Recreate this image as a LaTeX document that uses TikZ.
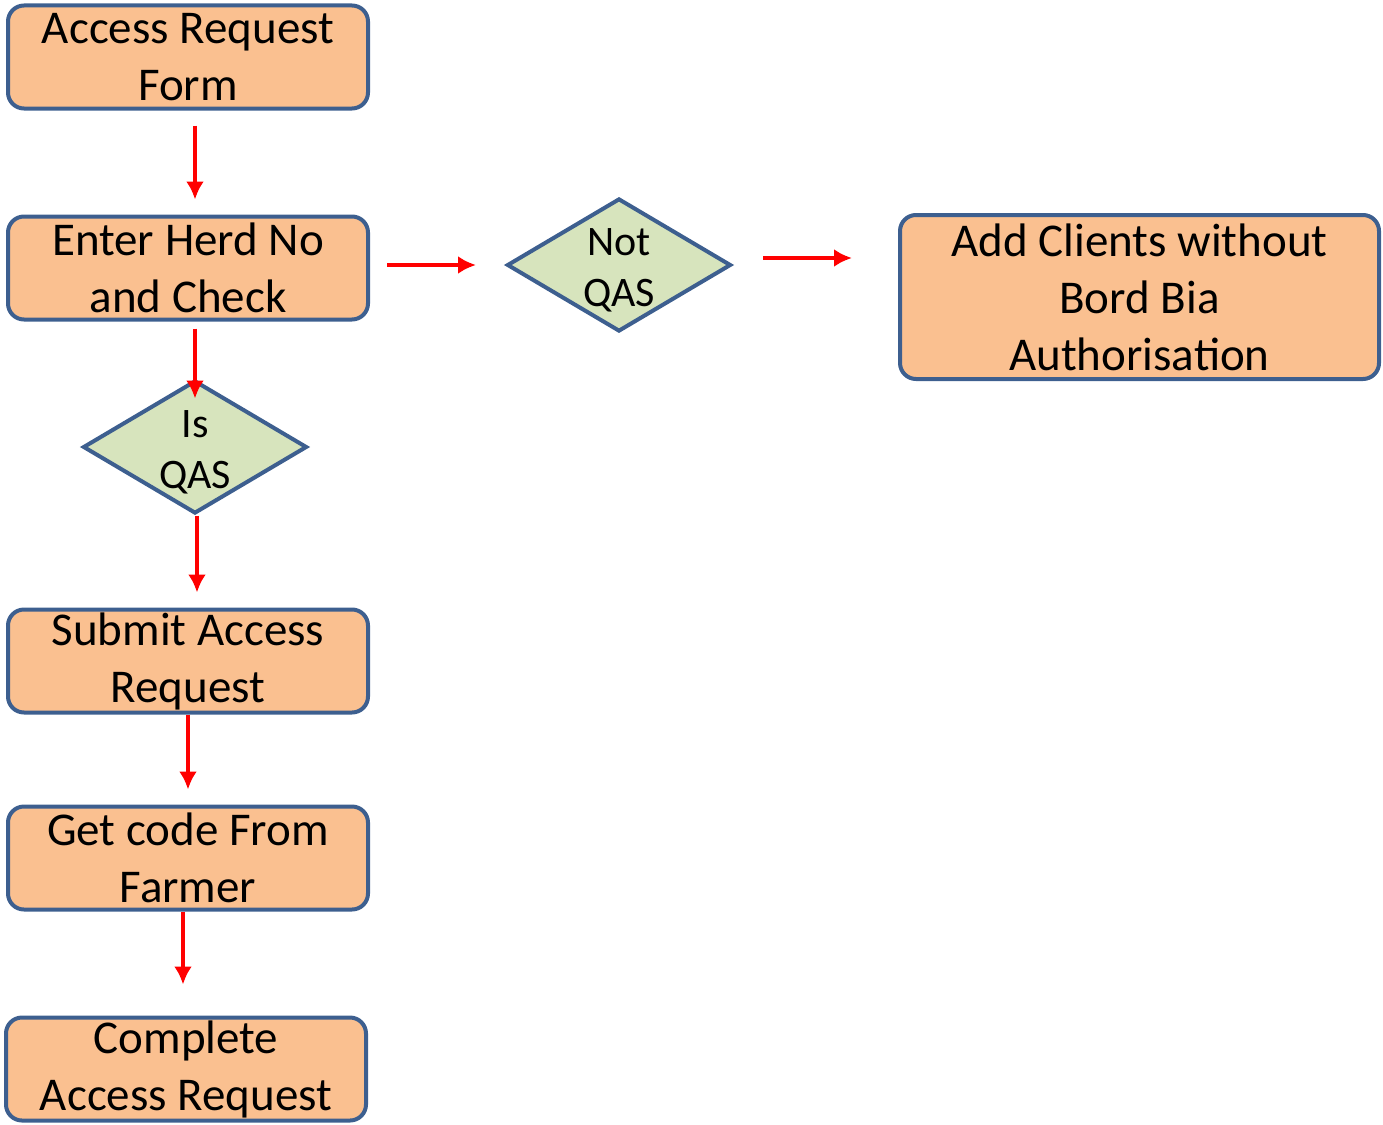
\documentclass[tikz,border=0pt]{standalone}
\usepackage{fontspec}
\setmainfont{Carlito}
\usetikzlibrary{shapes.geometric,arrows.meta}
\definecolor{boxfill}{HTML}{FAC090}
\definecolor{dfill}{HTML}{D7E4BD}
\definecolor{edge}{HTML}{3D5F8F}
\definecolor{arrred}{HTML}{FF0000}
\tikzset{
  procbox/.style={draw=edge, fill=boxfill, line width=4pt, rounded corners=16pt,
    minimum width=360pt, minimum height=103pt, align=center, inner sep=0pt,
    font=\fontsize{47}{57}\selectfont},
  decbox/.style={draw=edge, fill=dfill, line width=4pt, diamond, inner sep=0pt,
    minimum width=224pt, minimum height=133pt},
  dtext/.style={align=center, font=\fontsize{42}{51}\selectfont, inner sep=0pt, yshift=-5pt},
  arr/.style={draw=arrred, line width=4.5pt, -{Latex[length=18pt,width=18pt]}}
}
\begin{document}
\begin{tikzpicture}[x=1pt,y=-1pt]
\useasboundingbox (0,0) rectangle (1383,1124);
\node[procbox] (form) at (188,57) {Access Request\\Form};
\node[procbox] (herd) at (188,268) {Enter Herd No\\and Check};
\node[decbox, label={[dtext]center:Not\\QAS}] (notqas) at (619,265) {};
\node[procbox, minimum width=479pt, minimum height=164pt] (addc) at (1139.5,297) {Add Clients without\\Bord Bia\\Authorisation};
\node[decbox, label={[dtext]center:Is\\QAS}] (isqas) at (195,447) {};
\node[procbox] (submit) at (188,661) {Submit Access\\Request};
\node[procbox] (getcode) at (188,858) {Get code From\\Farmer};
\node[procbox] (complete) at (186,1069) {Complete\\Access Request};

\draw[arr, shorten <=15pt, shorten >=15pt] ([xshift=7pt]form.south) -- ([xshift=7pt]herd.north);
\draw[arr, shorten <=17pt, shorten >=29pt] (notqas.west -| herd.east) -- (notqas.west);
\draw[arr, shorten <=30pt, shorten >=46pt] ([yshift=7pt]notqas.east) -- ([yshift=7pt]notqas.east -| addc.west);
\draw[arr, shorten <=7pt, shorten >=-20pt] ([xshift=7pt]herd.south) -- (isqas.north);
\draw[arr, shorten >=15pt] ([xshift=2pt]isqas.south) -- ([xshift=9pt]submit.north);
\draw[arr, shorten >=15pt] (submit.south) -- (getcode.north);
\draw[arr, shorten >=31pt] ([xshift=-5pt]getcode.south) -- ([xshift=-3pt]complete.north);
\end{tikzpicture}
\end{document}
